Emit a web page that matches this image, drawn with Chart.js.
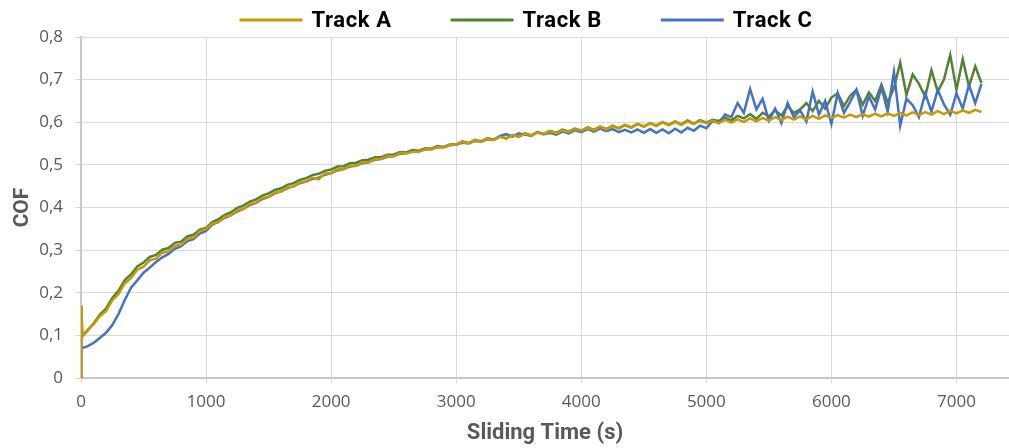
<!DOCTYPE html>
<html>
<head>
<meta charset="utf-8">
<script src="https://cdn.jsdelivr.net/npm/chart.js@4/dist/chart.umd.min.js"></script>
<style>
    html, body { margin: 0; padding: 0; background: #fff; }
    #wrap { width: 1009px; height: 448px; }
</style>
</head>
<body>
<div id="wrap"><canvas id="cofChart"></canvas></div>
<script>
// Données (COF en fonction du temps de glissement)
const seriesNames = ['Track A', 'Track B', 'Track C'];
const seriesColors = ['#c69a00', '#548235', '#4472c4'];

// premiers instants (pic au démarrage)
const startTimes = [0, 3, 10, 25];
const trackAStart = [0, 0.17, 0.10, 0.105];
const trackBStart = [0, 0.168, 0.098, 0.103];
const trackCStart = [null, null, 0.070, 0.072];

// ensuite un point toutes les 50 s, de 50 à 7200 s
const stepSeconds = 50;
const trackA = [
    0.112,0.126,0.145,0.157,0.182,0.197,0.222,0.234,0.254,0.261,
    0.276,0.280,0.294,0.297,0.310,0.313,0.326,0.329,0.344,0.350,
    0.362,0.366,0.378,0.382,0.394,0.397,0.408,0.411,0.422,0.425,
    0.435,0.437,0.447,0.449,0.459,0.461,0.470,0.466,0.480,0.481,
    0.490,0.490,0.498,0.498,0.506,0.506,0.514,0.514,0.521,0.520,
    0.528,0.527,0.531,0.530,0.537,0.536,0.542,0.541,0.547,0.548,
    0.554,0.550,0.558,0.554,0.562,0.558,0.566,0.562,0.570,0.566,
    0.573,0.569,0.576,0.572,0.579,0.574,0.581,0.577,0.584,0.580,
    0.587,0.581,0.589,0.583,0.591,0.585,0.593,0.587,0.596,0.589,
    0.598,0.591,0.600,0.593,0.601,0.594,0.602,0.596,0.603,0.598,
    0.604,0.598,0.606,0.599,0.607,0.601,0.609,0.602,0.610,0.604,
    0.612,0.605,0.613,0.606,0.614,0.607,0.615,0.608,0.616,0.610,
    0.617,0.611,0.618,0.612,0.619,0.613,0.620,0.614,0.621,0.615,
    0.622,0.616,0.623,0.617,0.624,0.618,0.626,0.619,0.627,0.621,
    0.628,0.622,0.629,0.624
];
const trackB = [
    0.110,0.128,0.148,0.163,0.188,0.205,0.230,0.243,0.262,0.271,
    0.284,0.289,0.301,0.305,0.317,0.320,0.332,0.336,0.348,0.352,
    0.366,0.373,0.383,0.389,0.399,0.405,0.414,0.419,0.428,0.433,
    0.441,0.445,0.453,0.457,0.465,0.469,0.476,0.479,0.486,0.489,
    0.496,0.497,0.504,0.505,0.511,0.512,0.518,0.518,0.524,0.524,
    0.530,0.529,0.535,0.533,0.539,0.538,0.544,0.542,0.548,0.547,
    0.555,0.551,0.559,0.555,0.563,0.559,0.567,0.562,0.570,0.566,
    0.574,0.569,0.577,0.572,0.580,0.575,0.583,0.578,0.585,0.580,
    0.588,0.582,0.590,0.584,0.592,0.586,0.594,0.588,0.596,0.590,
    0.598,0.592,0.600,0.594,0.602,0.595,0.604,0.597,0.605,0.599,
    0.606,0.603,0.611,0.604,0.615,0.609,0.619,0.608,0.622,0.614,
    0.628,0.616,0.638,0.622,0.630,0.645,0.626,0.650,0.632,0.658,
    0.668,0.638,0.662,0.676,0.641,0.670,0.650,0.688,0.646,0.680,
    0.740,0.664,0.712,0.690,0.660,0.722,0.672,0.700,0.758,0.676,
    0.748,0.684,0.731,0.692
];
const trackC = [
    0.074,0.082,0.094,0.106,0.124,0.150,0.183,0.212,0.229,0.247,
    0.259,0.272,0.283,0.291,0.303,0.309,0.321,0.326,0.339,0.345,
    0.360,0.367,0.376,0.382,0.391,0.397,0.406,0.411,0.420,0.425,
    0.433,0.438,0.445,0.450,0.457,0.461,0.467,0.470,0.477,0.481,
    0.487,0.490,0.496,0.498,0.504,0.506,0.512,0.514,0.519,0.521,
    0.526,0.527,0.531,0.532,0.536,0.537,0.541,0.542,0.546,0.548,
    0.552,0.551,0.556,0.555,0.560,0.559,0.568,0.572,0.566,0.574,
    0.571,0.568,0.577,0.572,0.575,0.571,0.578,0.574,0.581,0.577,
    0.584,0.578,0.585,0.579,0.584,0.577,0.582,0.576,0.583,0.575,
    0.584,0.575,0.583,0.574,0.585,0.576,0.587,0.580,0.592,0.586,
    0.603,0.598,0.618,0.612,0.645,0.622,0.678,0.630,0.655,0.604,
    0.632,0.598,0.645,0.612,0.628,0.602,0.672,0.618,0.650,0.596,
    0.668,0.622,0.648,0.676,0.615,0.660,0.630,0.682,0.625,0.718,
    0.592,0.655,0.640,0.612,0.668,0.625,0.676,0.642,0.618,0.668,
    0.632,0.688,0.645,0.690
];

// Axes
const xMax = 7420;
const xTickValues = [0, 1000, 2000, 3000, 4000, 5000, 6000, 7000];
const yMax = 0.8;
const yStep = 0.1;

const gridColor = '#d9d9d9';
const axisColor = '#c9c9c9';
const textGray = '#595959';

// Construction des points {x, y}
function buildPoints(startVals, mainVals) {
    const pts = [];
    startTimes.forEach((t, i) => {
        if (startVals[i] !== null) pts.push({ x: t, y: startVals[i] });
    });
    mainVals.forEach((v, i) => {
        pts.push({ x: (i + 1) * stepSeconds, y: v });
    });
    return pts;
}

function makeDataset(idx, startVals, mainVals, order) {
    return {
        label: seriesNames[idx],
        data: buildPoints(startVals, mainVals),
        borderColor: seriesColors[idx],
        backgroundColor: seriesColors[idx],
        borderWidth: 2.5,
        pointRadius: 0,
        tension: 0,
        fill: false,
        order: order
    };
}

// Légende dessinée à la main (trait + texte, espacement large)
const topLegend = {
    id: 'topLegend',
    afterDraw(chart) {
        const c = chart.ctx;
        const lineLen = 63;
        const textGap = 9;
        const itemGap = 59;
        const y = 20;
        c.save();
        c.font = 'bold 22px Roboto';
        c.letterSpacing = '0.6px';
        const widths = chart.data.datasets.map(ds => c.measureText(ds.label).width);
        let total = 0;
        widths.forEach((w, i) => {
            total += lineLen + textGap + w + (i < widths.length - 1 ? itemGap : 0);
        });
        let x = 526 - total / 2;
        chart.data.datasets.forEach((ds, i) => {
            c.strokeStyle = ds.borderColor;
            c.lineWidth = 3;
            c.beginPath();
            c.moveTo(x, y);
            c.lineTo(x + lineLen, y);
            c.stroke();
            x += lineLen + textGap;
            c.fillStyle = '#000';
            c.textBaseline = 'middle';
            c.textAlign = 'left';
            c.fillText(ds.label, x, y + 1);
            x += widths[i] + itemGap;
        });
        c.restore();
    }
};

const ctx = document.getElementById('cofChart').getContext('2d');
new Chart(ctx, {
    type: 'line',
    data: {
        datasets: [
            makeDataset(0, trackAStart, trackA, 0),
            makeDataset(1, trackBStart, trackB, 2),
            makeDataset(2, trackCStart, trackC, 1)
        ]
    },
    plugins: [topLegend],
    options: {
        responsive: true,
        maintainAspectRatio: false,
        animation: false,
        layout: { padding: { left: 0, right: 0, top: 37, bottom: 0 } },
        plugins: {
            legend: { display: false },
            tooltip: { enabled: false }
        },
        scales: {
            x: {
                type: 'linear',
                min: 0,
                max: xMax,
                afterBuildTicks: function(scale) {
                    scale.ticks = xTickValues.map(v => ({ value: v }));
                },
                afterFit: function(scale) { scale.height = 70; },
                ticks: {
                    color: textGray,
                    padding: 9,
                    maxRotation: 0,
                    autoSkip: false,
                    font: { family: 'Open Sans', size: 17 },
                    callback: function(value) { return String(value); }
                },
                grid: { color: gridColor, lineWidth: 1, tickLength: 5 },
                border: { color: axisColor, width: 2 },
                title: {
                    display: true,
                    text: 'Sliding Time (s)',
                    color: textGray,
                    padding: { top: 0, bottom: 1 },
                    font: { family: 'Roboto', size: 22, weight: 'bold' }
                }
            },
            y: {
                min: 0,
                max: yMax,
                afterFit: function(scale) { scale.width = 81; },
                ticks: {
                    stepSize: yStep,
                    color: textGray,
                    padding: 12,
                    font: { family: 'Open Sans', size: 17 },
                    callback: function(value) {
                        if (value === 0) return '0';
                        return value.toFixed(1).replace('.', ',');
                    }
                },
                grid: { color: gridColor, lineWidth: 1, tickLength: 6 },
                border: { color: axisColor, width: 2 },
                title: {
                    display: true,
                    text: 'COF',
                    color: textGray,
                    padding: { top: 10, bottom: 0 },
                    font: { family: 'Roboto', size: 21, weight: 'bold' }
                }
            }
        }
    }
});
</script>
</body>
</html>
